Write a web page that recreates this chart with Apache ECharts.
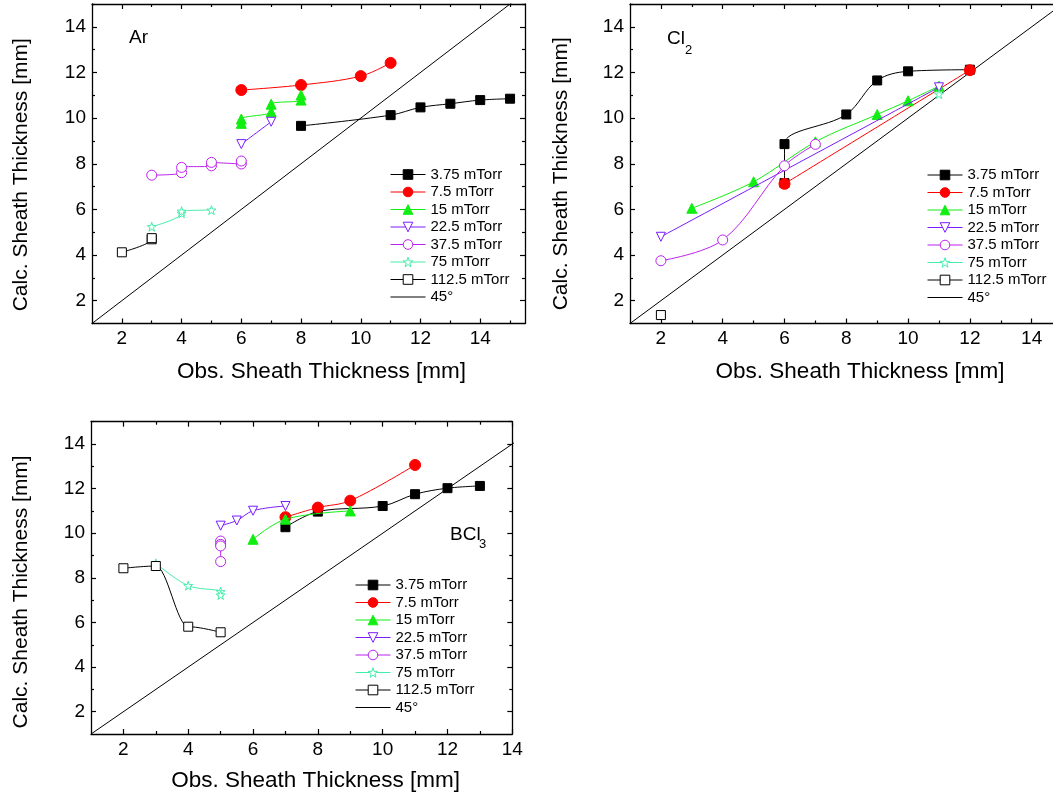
<!DOCTYPE html>
<html>
<head>
<meta charset="utf-8">
<script src="https://cdn.jsdelivr.net/npm/echarts@6/dist/echarts.min.js"></script>
<style>html,body{margin:0;padding:0;background:#fff}#c{width:1053px;height:796px}</style>
</head>
<body>
<div id="c"></div>
<script>
// ---------- data ----------
const NAMES = ['3.75 mTorr', '7.5 mTorr', '15 mTorr', '22.5 mTorr', '37.5 mTorr', '75 mTorr', '112.5 mTorr'];
const NAME_45 = '45°';
const MAJOR_TICKS = [2, 4, 6, 8, 10, 12, 14];
const MINOR_TICKS = [3, 5, 7, 9, 11, 13, 15];
const DIAG = [[1, 1], [16, 16]];

// Ar
const ar375 = [[8, 9.66], [11, 10.13], [12, 10.47], [13, 10.63], [14, 10.79], [15, 10.85]];
const ar750 = [[6, 11.23], [8, 11.45], [10, 11.84], [11, 12.42]];
const ar1500 = [[6, 9.77], [6, 9.96], [7, 10.28], [7, 10.61], [8, 10.79], [8, 11.01]];
const ar2250 = [[6, 8.86], [7, 9.84]];
const ar3750 = [[3, 7.5], [4, 7.61], [4, 7.84], [5, 7.91], [5, 8.06], [6, 7.99], [6, 8.12]];
const ar7500 = [[3, 5.24], [4, 5.83], [4, 5.92], [5, 5.97]];
const ar11250 = [[2, 4.12], [3, 4.69], [3, 4.74]];

// Cl2
const cl375 = [[6, 7.15], [6, 8.86], [8, 10.16], [9, 11.65], [10, 12.05], [12, 12.12]];
const cl750 = [[6, 7.12], [12, 12.1]];
const cl1500 = [[3, 6.05], [5, 7.21], [7, 8.96], [9, 10.16], [10, 10.76], [11, 11.4]];
const cl2250 = [[2, 4.8], [11, 11.35]];
const cl3750 = [[2, 3.75], [4, 4.66], [6, 7.91], [7, 8.85]];
const cl7500 = [[11, 11.05]];
const cl11250 = [[2, 1.37]];

// BCl3
const bcl375 = [[7, 10.27], [8, 10.97], [10, 11.22], [11, 11.75], [12, 12.02], [13, 12.12]];
const bcl750 = [[7, 10.72], [8, 11.15], [9, 11.46], [11, 13.06]];
const bcl1500 = [[6, 9.73], [7, 10.63], [9, 11.0]];
const bcl2250 = [[5, 10.34], [5.5, 10.57], [6, 11.01], [7, 11.22]];
const bcl3750 = [[5, 9.65], [5, 9.5], [5, 9.43], [5, 8.73]];
const bcl7500 = [[3, 8.65], [4, 7.65], [5, 7.38], [5, 7.23]];
const bcl11250 = [[2, 8.43], [3, 8.53], [4, 5.81], [5, 5.56]];

const AR = [ar375, ar750, ar1500, ar2250, ar3750, ar7500, ar11250];
const CL = [cl375, cl750, cl1500, cl2250, cl3750, cl7500, cl11250];
const BCL = [bcl375, bcl750, bcl1500, bcl2250, bcl3750, bcl7500, bcl11250];

// ---------- styles ----------
const FONT = '"Liberation Sans", Arial, sans-serif';
const STAR = 'path://M50,0 L61.2,34.5 L97.6,34.5 L68.2,55.9 L79.4,90.5 L50,69.1 L20.6,90.5 L31.8,55.9 L2.4,34.5 L38.8,34.5 Z';
const STYLES = [
  { c: '#000000', sym: 'rect', size: 9, fill: true },
  { c: '#ff0000', sym: 'circle', size: 11, fill: true },
  { c: '#11ee11', sym: 'triangle', size: 10, fill: true },
  { c: '#7a1cff', sym: 'triangle', size: 9, fill: false, rot: 180 },
  { c: '#bb22ee', sym: 'circle', size: 10, fill: false },
  { c: '#44eeaa', sym: STAR, size: 9, fill: false },
  { c: '#000000', sym: 'rect', size: 9, fill: false }
];

const PANELS = [
  { left: 92, top: 4, width: 433, height: 319.5, xmax: 15.5, ymax: 15, data: AR, xGap: 37, yGap: 60, xPad: [0, 0, 0, 26], yPad: [0, 22, 0, 0], rightLine: true, monotone: [] },
  { left: 630, top: 4, width: 423, height: 319.5, xmax: 14.69, ymax: 15, data: CL, xGap: 37, yGap: 58, xPad: [0, 0, 0, 37], yPad: [0, 20, 0, 0], rightLine: false, monotone: [] },
  { left: 91, top: 421.7, width: 421.3, height: 312.3, xmax: 14, ymax: 15, data: BCL, xGap: 35, yGap: 59, xPad: [0, 0, 0, 28], yPad: [0, 28, 0, 0], rightLine: true, monotone: [6] }
];

const LEGENDS = [
  { left: 390, top: 167 },
  { left: 927, top: 167.5 },
  { left: 355, top: 577.5 }
];

const grid = [], xAxis = [], yAxis = [], series = [];

function axisSet(dim, gi, max, title, gap, pad, mirrorShow) {
  const isX = dim === 'x';
  const major = MAJOR_TICKS.filter(v => v <= max);
  const minor = MINOR_TICKS.filter(v => v <= max);
  const base = { type: 'value', gridIndex: gi, min: 1, max: max, interval: 1, splitLine: { show: false } };
  const lineS = { show: true, lineStyle: { color: '#000', width: 1.3 } };
  const tick = (vals, len) => ({ show: true, inside: true, length: len, customValues: vals, lineStyle: { color: '#000', width: 1.2 } });
  const main = Object.assign({}, base, {
    position: isX ? 'bottom' : 'left',
    axisLine: lineS,
    axisTick: tick(major, 5),
    axisLabel: { customValues: major, margin: 6, fontSize: 19, color: '#000', fontFamily: FONT },
    name: title, nameLocation: 'middle', nameGap: gap,
    nameTextStyle: { fontSize: isX ? 22.5 : 21, color: '#000', fontFamily: FONT, padding: pad }
  });
  const mainMinor = Object.assign({}, base, {
    position: isX ? 'bottom' : 'left',
    axisLine: { show: false },
    axisTick: tick(minor, 3),
    axisLabel: { show: false }
  });
  const mirror = Object.assign({}, base, {
    position: isX ? 'top' : 'right',
    axisLine: mirrorShow ? lineS : { show: false },
    axisTick: mirrorShow ? tick(major, 5) : { show: false },
    axisLabel: { show: false }
  });
  const mirrorMinor = Object.assign({}, base, {
    position: isX ? 'top' : 'right',
    axisLine: { show: false },
    axisTick: mirrorShow ? tick(minor, 3) : { show: false },
    axisLabel: { show: false }
  });
  return [main, mainMinor, mirror, mirrorMinor];
}

PANELS.forEach((p, gi) => {
  grid.push({ left: p.left, top: p.top, width: p.width, height: p.height, containLabel: false });
  const xi = xAxis.length, yi = yAxis.length;
  axisSet('x', gi, p.xmax, 'Obs. Sheath Thickness [mm]', p.xGap, p.xPad, true).forEach(a => xAxis.push(a));
  axisSet('y', gi, p.ymax, 'Calc. Sheath Thickness [mm]', p.yGap, p.yPad, p.rightLine).forEach(a => yAxis.push(a));
  p.data.forEach((d, k) => {
    const s = STYLES[k];
    const ser = {
      type: 'line', name: NAMES[k], xAxisIndex: xi, yAxisIndex: yi, data: d,
      smooth: 0.35,
      symbol: s.sym, symbolSize: s.size, symbolRotate: s.rot || 0, showAllSymbol: true,
      lineStyle: { color: s.c, width: 1 },
      itemStyle: s.fill ? { color: s.c, borderColor: s.c, borderWidth: 1 } : { color: '#ffffff', borderColor: s.c, borderWidth: 1 },
      emphasis: { disabled: true }, z: 3 + k
    };
    if (p.monotone.indexOf(k) >= 0) ser.smoothMonotone = 'x';
    series.push(ser);
  });
  series.push({
    type: 'line', name: NAME_45, xAxisIndex: xi, yAxisIndex: yi, data: DIAG,
    symbol: 'none', lineStyle: { color: '#000', width: 1 }, itemStyle: { color: '#000' },
    emphasis: { disabled: true }, z: 2
  });
});

const legend = LEGENDS.map(l => ({
  left: l.left, top: l.top, orient: 'vertical', padding: 0, itemWidth: 35, itemHeight: 12, itemGap: 2.5,
  selectedMode: false,
  data: NAMES.map(n => ({ name: n })).concat([{ name: NAME_45, itemStyle: { opacity: 0 } }]),
  lineStyle: { width: 1 },
  itemStyle: { borderWidth: 1 },
  textStyle: { fontSize: 15, lineHeight: 15, color: '#000', fontFamily: FONT }
}));

const graphic = [
  { type: 'text', left: 129, top: 28, style: { text: 'Ar', fill: '#000', font: '19px ' + FONT } },
  { type: 'text', left: 667, top: 29, style: { text: 'Cl', fill: '#000', font: '19px ' + FONT } },
  { type: 'text', left: 685, top: 44, style: { text: '2', fill: '#000', font: '13px ' + FONT } },
  { type: 'text', left: 450, top: 525, style: { text: 'BCl', fill: '#000', font: '19px ' + FONT } },
  { type: 'text', left: 479, top: 538, style: { text: '3', fill: '#000', font: '13px ' + FONT } }
];

const chart = echarts.init(document.getElementById('c'), null, { renderer: 'canvas' });
chart.setOption({
  backgroundColor: '#ffffff',
  animation: false,
  grid, xAxis, yAxis, series, legend, graphic
});
</script>
</body>
</html>
